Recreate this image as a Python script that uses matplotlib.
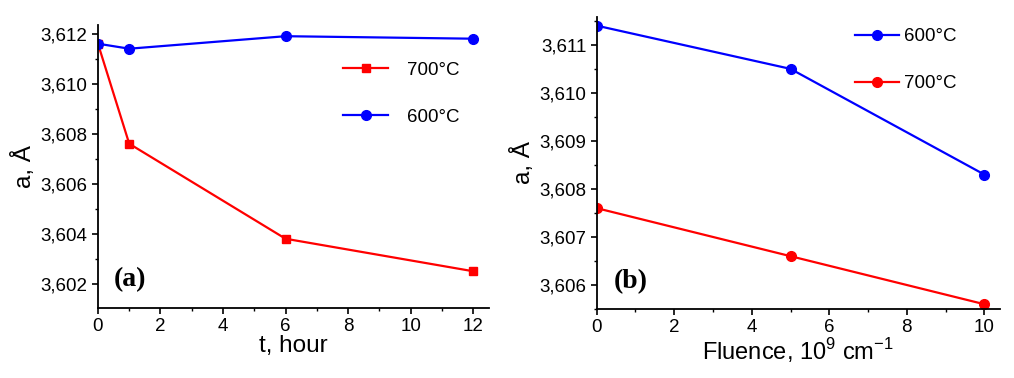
import matplotlib
matplotlib.use("Agg")
import matplotlib.pyplot as plt
from matplotlib.ticker import FuncFormatter, MultipleLocator

plt.rcParams['font.family'] = ['Liberation Sans', 'DejaVu Sans']

# Panel (a): lattice parameter vs annealing time
t_hours = [0, 1, 6, 12]
a_700_t = [3.6116, 3.6076, 3.6038, 3.6025]
a_600_t = [3.6116, 3.6114, 3.6119, 3.6118]

# Panel (b): lattice parameter vs fluence
fluence = [0, 5, 10]
a_600_f = [3.6114, 3.6105, 3.6083]
a_700_f = [3.6076, 3.6066, 3.6056]

RED = '#ff0000'
BLUE = '#0000ff'

fig = plt.figure(figsize=(10.14, 3.78), dpi=100)
ax1 = fig.add_axes([0.0966, 0.1852, 0.482 - 0.0966, 0.934 - 0.1852])
ax2 = fig.add_axes([0.5885, 0.1825, 0.986 - 0.5885, 0.955 - 0.1825])

comma = FuncFormatter(lambda v, p: f"{v:.3f}".replace('.', ','))

def style(ax):
    for s in ['top', 'right']:
        ax.spines[s].set_visible(False)
    for s in ['left', 'bottom']:
        ax.spines[s].set_linewidth(1.3)
    ax.tick_params(which='major', direction='out', length=4.5, width=1.2, labelsize=13.5, pad=3)
    ax.tick_params(which='minor', direction='out', length=2.5, width=1.0)
    ax.yaxis.set_major_formatter(comma)

ax1.plot(t_hours, a_700_t, '-s', color=RED, lw=1.6, ms=6, label='700\u00b0C')
ax1.plot(t_hours, a_600_t, '-o', color=BLUE, lw=1.6, ms=7, label='600\u00b0C')
ax1.set_xlim(0, 12.5)
ax1.set_ylim(3.60103, 3.61235)
ax1.xaxis.set_major_locator(MultipleLocator(2))
ax1.xaxis.set_minor_locator(MultipleLocator(1))
ax1.yaxis.set_major_locator(MultipleLocator(0.002))
ax1.yaxis.set_minor_locator(MultipleLocator(0.001))
style(ax1)
ax1.set_xlabel('t, hour', fontsize=17.5, labelpad=0)
ax1.set_ylabel('a, \u00c5', fontsize=17.5, labelpad=3)
ax1.legend(loc='upper left', bbox_to_anchor=(0.585, 0.93), frameon=False, fontsize=13.5,
           handlelength=2.4, handletextpad=1.0, labelspacing=1.6)
ax1.text(0.082, 0.099, '(a)', transform=ax1.transAxes, ha='center', va='center',
         fontsize=20, fontweight='bold', family='Liberation Serif')

ax2.plot(fluence, a_600_f, '-o', color=BLUE, lw=1.6, ms=7, label='600\u00b0C')
ax2.plot(fluence, a_700_f, '-o', color=RED, lw=1.6, ms=7, label='700\u00b0C')
ax2.set_xlim(0, 10.4)
ax2.set_ylim(3.6055, 3.61158)
ax2.xaxis.set_major_locator(MultipleLocator(2))
ax2.xaxis.set_minor_locator(MultipleLocator(1))
ax2.yaxis.set_major_locator(MultipleLocator(0.001))
ax2.yaxis.set_minor_locator(MultipleLocator(0.0005))
style(ax2)
ax2.set_xlabel('Fluence, 10$^\\mathregular{9}$ cm$^\\mathregular{-1}$', fontsize=17, labelpad=0)
ax2.set_ylabel('a, \u00c5', fontsize=17.5, labelpad=3)
ax2.legend(loc='upper left', bbox_to_anchor=(0.6, 1.02), frameon=False, fontsize=13.5,
           handlelength=2.3, handletextpad=0.3, labelspacing=1.6)
ax2.text(0.084, 0.093, '(b)', transform=ax2.transAxes, ha='center', va='center',
         fontsize=20, fontweight='bold', family='Liberation Serif')

fig.savefig('out.png', dpi=100)
